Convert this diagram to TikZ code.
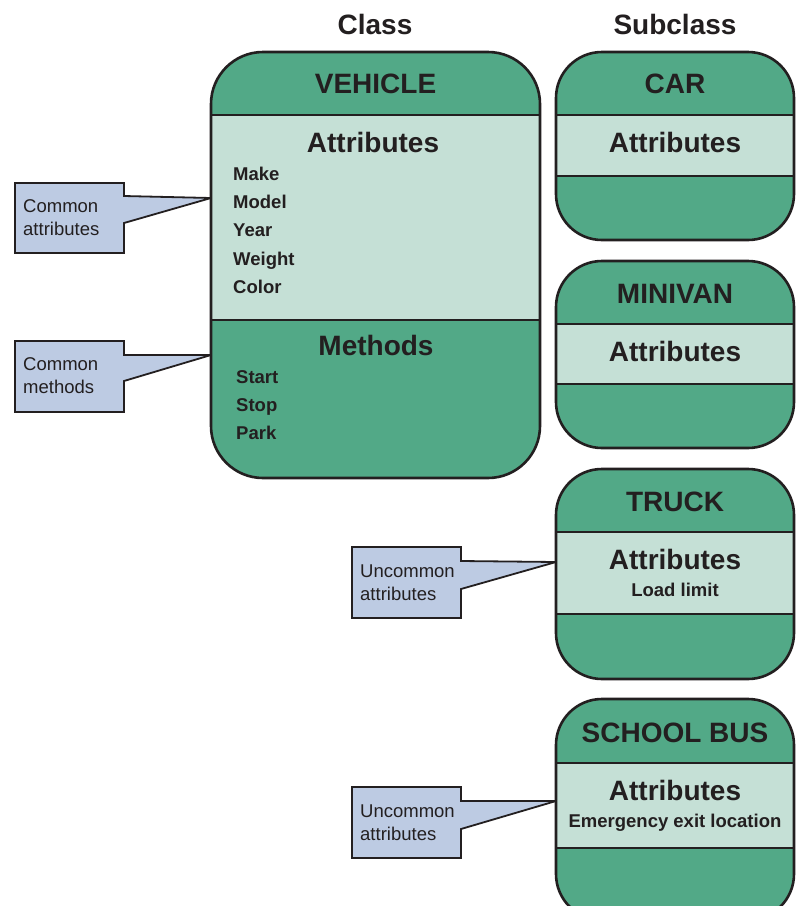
\documentclass[tikz,border=0pt]{standalone}
\usepackage{fontspec}
\setmainfont{Liberation Sans}
\definecolor{dkg}{HTML}{52A987}
\definecolor{ltg}{HTML}{C5E0D6}
\definecolor{clb}{HTML}{BDCBE3}
\definecolor{ink}{HTML}{231F20}
\tikzset{
 boxline/.style={draw=ink, line width=2.6pt},
 divline/.style={draw=ink, line width=2.4pt},
 callout/.style={draw=ink, fill=clb, line width=1.8pt, line join=miter},
 title/.style={font=\bfseries\fontsize{28}{30}\selectfont, text=ink, anchor=base, inner sep=0pt},
 item/.style={font=\bfseries\fontsize{18.5}{20}\selectfont, text=ink, anchor=base west, inner sep=0pt},
 sub/.style={font=\bfseries\fontsize{18.5}{20}\selectfont, text=ink, anchor=base, inner sep=0pt},
 note/.style={font=\fontsize{18.5}{23}\selectfont, text=ink, align=left, anchor=west, inner sep=0pt},
}
% left right top div1 div2 bottom radius
\newcommand\mybox[7]{%
 \begin{scope}
 \clip[rounded corners=#7] (#1,#3) rectangle (#2,#6);
 \fill[dkg] (#1,#3) rectangle (#2,#6);
 \fill[ltg] (#1,#4) rectangle (#2,#5);
 \end{scope}
 \draw[divline] (#1,#4) -- (#2,#4) (#1,#5) -- (#2,#5);
 \draw[boxline, rounded corners=#7] (#1,#3) rectangle (#2,#6);
}
\begin{document}
\begin{tikzpicture}[x=1pt,y=-1pt]
\useasboundingbox (0,0) rectangle (796,906);
\clip (0,0) rectangle (796,906);
\fill[white] (0,0) rectangle (796,906);

% column headings
\node[title] (hclass) at (375,34) {Class};
\node[title] (hsub) at (675,34) {Subclass};

% callouts
\coordinate (tipA) at (211,198);
\coordinate (tipB) at (211,355);
\coordinate (tipC) at (556,562);
\coordinate (tipD) at (556,801);
\draw[callout] (15,183) -- (124,183) -- (124,196) -- (tipA) -- (124,223) -- (124,253) -- (15,253) -- cycle;
\draw[callout] (15,341) -- (124,341) -- (124,355) -- (tipB) -- (124,381) -- (124,412) -- (15,412) -- cycle;
\draw[callout] (352,547) -- (461,547) -- (461,561) -- (tipC) -- (461,589) -- (461,618) -- (352,618) -- cycle;
\draw[callout] (352,787) -- (461,787) -- (461,801) -- (tipD) -- (461,829) -- (461,858) -- (352,858) -- cycle;
\node[note] (nA) at (23,218) {Common\\attributes};
\node[note] (nB) at (23,376) {Common\\methods};
\node[note] (nC) at (360,583) {Uncommon\\attributes};
\node[note] (nD) at (360,823) {Uncommon\\attributes};

% VEHICLE class box
\mybox{211}{540}{52}{115}{320}{478}{52pt}
\node[title] (veh) at (375.5,93) {VEHICLE};
\node[title] (vattr) at (373,152) {Attributes};
\node[item] (make) at (233,180) {Make};
\node[item] (model) at (233,208) {Model};
\node[item] (year) at (233,236) {Year};
\node[item] (weight) at (233,265) {Weight};
\node[item] (color) at (233,293) {Color};
\node[title] (vmeth) at (376,355) {Methods};
\node[item] (start) at (236,383) {Start};
\node[item] (stop) at (236,411) {Stop};
\node[item] (park) at (236,439) {Park};

% subclasses
\mybox{556}{794}{52}{115}{176}{240}{46pt}
\node[title] (car) at (675,93) {CAR};
\node[title] (cattr) at (675,152) {Attributes};

\mybox{556}{794}{261}{324}{384}{448}{46pt}
\node[title] (mini) at (675,303) {MINIVAN};
\node[title] (mattr) at (675,361) {Attributes};

\mybox{556}{794}{469}{532}{614}{679}{46pt}
\node[title] (truck) at (675,511) {TRUCK};
\node[title] (tattr) at (675,569) {Attributes};
\node[sub] (load) at (675,596) {Load limit};

\mybox{556}{794}{699}{763}{848}{920}{46pt}
\node[title] (bus) at (675,742) {SCHOOL BUS};
\node[title] (battr) at (675,800) {Attributes};
\node[sub] (exit) at (675,827) {Emergency exit location};
\end{tikzpicture}
\end{document}
